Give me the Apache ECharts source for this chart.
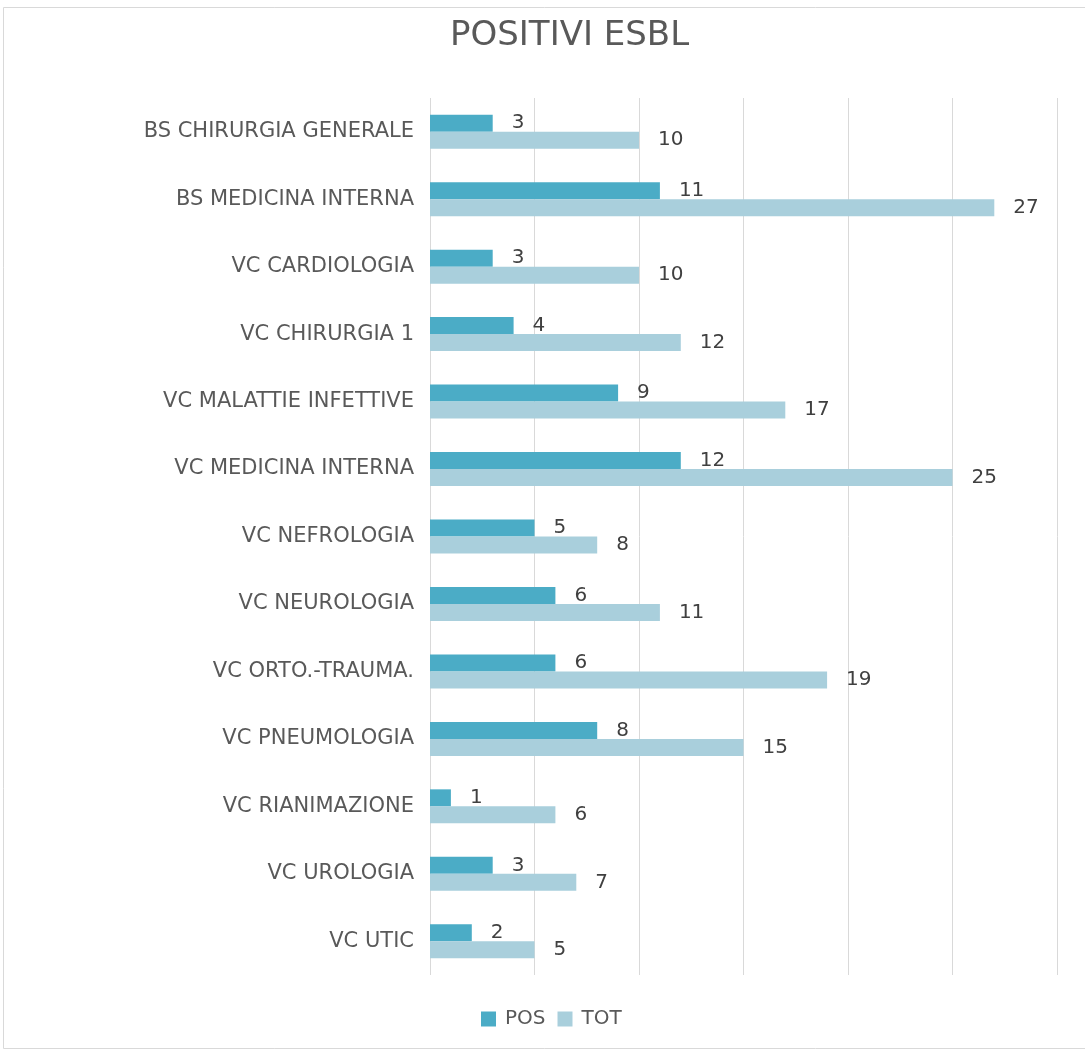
<!DOCTYPE html>
<html>
<head>
<meta charset="utf-8">
<script src="https://cdn.jsdelivr.net/npm/echarts@6/dist/echarts.min.js"></script>
<style>
  html, body { margin: 0; padding: 0; background: #fff; }
  #chart { width: 1085px; height: 1053px; }
</style>
</head>
<body>
<div id="chart"></div>
<script>
// reparti (dall'alto verso il basso)
const categories = [
  'BS CHIRURGIA GENERALE',
  'BS MEDICINA INTERNA',
  'VC CARDIOLOGIA',
  'VC CHIRURGIA 1',
  'VC MALATTIE INFETTIVE',
  'VC MEDICINA INTERNA',
  'VC NEFROLOGIA',
  'VC NEUROLOGIA',
  'VC ORTO.-TRAUMA.',
  'VC PNEUMOLOGIA',
  'VC RIANIMAZIONE',
  'VC UROLOGIA',
  'VC UTIC'
];
const posValues = [3, 11, 3, 4, 9, 12, 5, 6, 6, 8, 1, 3, 2];
const totValues = [10, 27, 10, 12, 17, 25, 8, 11, 19, 15, 6, 7, 5];

const FONT = 'DejaVu Sans';
const chart = echarts.init(document.getElementById('chart'));

const labelStyle = {
  show: true,
  position: 'right',
  distance: 19,
  fontSize: 20,
  fontFamily: FONT,
  color: '#404040'
};

chart.setOption({
  animation: false,
  textStyle: { fontFamily: FONT },
  title: {
    text: 'POSITIVI ESBL',
    left: 445,
    top: 14,
    textStyle: { fontSize: 34, fontWeight: 'normal', color: '#595959', fontFamily: FONT }
  },
  graphic: [{
    type: 'rect',
    shape: { x: 3.5, y: 7.5, width: 1090, height: 1041 },
    style: { fill: 'none', stroke: '#d9d9d9', lineWidth: 1 },
    silent: true
  }],
  legend: {
    bottom: 19,
    left: 476,
    itemWidth: 15,
    itemHeight: 15,
    itemGap: 12,
    icon: 'rect',
    textStyle: { fontSize: 20, color: '#595959', fontFamily: FONT, padding: [0, 0, 0, 4] }
  },
  grid: { left: 430, right: 28, top: 98, bottom: 78 },
  xAxis: {
    type: 'value',
    min: 0,
    max: 30,
    interval: 5,
    axisLabel: { show: false },
    axisLine: { show: false },
    axisTick: { show: false },
    splitLine: { show: true, lineStyle: { color: '#d9d9d9', width: 1 } }
  },
  yAxis: {
    type: 'category',
    data: categories,
    inverse: true,
    axisLine: { show: false },
    axisTick: { show: false },
    axisLabel: { fontSize: 21, color: '#595959', margin: 16, fontFamily: FONT }
  },
  series: [
    {
      name: 'POS',
      type: 'bar',
      data: posValues,
      barWidth: 17,
      barGap: '0%',
      itemStyle: { color: '#4bacc6' },
      label: labelStyle
    },
    {
      name: 'TOT',
      type: 'bar',
      data: totValues,
      barWidth: 17,
      barGap: '0%',
      itemStyle: { color: '#a9cfdc' },
      label: labelStyle
    }
  ]
});
</script>
</body>
</html>
